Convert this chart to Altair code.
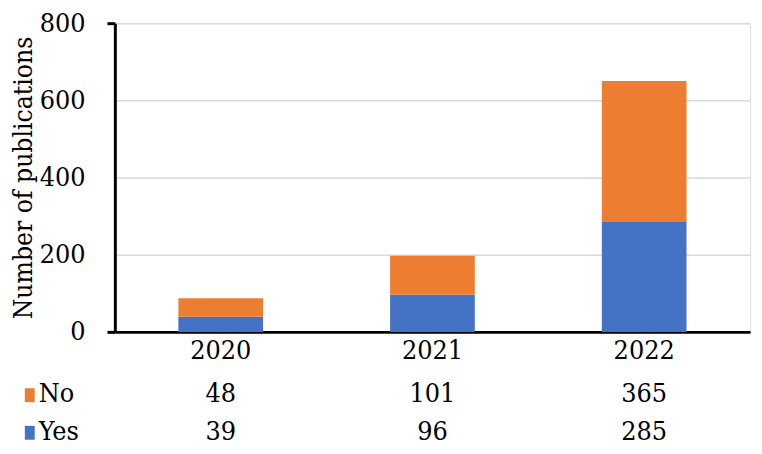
import altair as alt
import pandas as pd

years = ["2020", "2021", "2022"]
no_values = [48, 101, 365]
yes_values = [39, 96, 285]
series = ["Yes", "No"]
colors = ["#4472C4", "#ED7D31"]
y_ticks = [0, 200, 400, 600, 800]

rows = []
for i, yr in enumerate(years):
    rows.append({"year": yr, "group": "Yes", "value": yes_values[i], "order": 0})
    rows.append({"year": yr, "group": "No", "value": no_values[i], "order": 1})
df = pd.DataFrame(rows)

FONT = "DejaVu Serif Condensed"
FS = 27

x_enc = alt.X("year:N", sort=years,
              scale=alt.Scale(paddingInner=0.6, paddingOuter=0.3),
              axis=alt.Axis(title=None, labelAngle=0, labelFont=FONT, labelFontSize=FS,
                            labelColor="black", domainColor="black", domainWidth=3,
                            ticks=False, labelPadding=6, grid=False))

bars = alt.Chart(df).mark_bar(stroke=None).encode(
    x=x_enc,
    y=alt.Y("sum(value):Q", stack="zero",
            scale=alt.Scale(domain=[0, 800], nice=False),
            axis=alt.Axis(title="Number of publications", values=y_ticks,
                          titleFont=FONT, titleFontSize=26.5, titleFontWeight="normal",
                          titleColor="black", titlePadding=2,
                          labelFont=FONT, labelFontSize=FS, labelColor="black",
                          labelPadding=22, tickSize=8, tickWidth=3,
                          tickColor={"condition": {"test": "datum.value == 0 || datum.value == 800", "value": "black"}, "value": "transparent"},
                          domainColor="black", domainWidth=3,
                          grid=True, gridColor="#d9d9d9", gridWidth=1.5)),
    color=alt.Color("group:N", scale=alt.Scale(domain=series, range=colors), legend=None),
    order=alt.Order("order:Q"),
)

tdf_no = pd.DataFrame({"year": years, "value": no_values})
tdf_yes = pd.DataFrame({"year": years, "value": yes_values})

text_no = alt.Chart(tdf_no).mark_text(font=FONT, fontSize=FS, color="black", baseline="middle").encode(
    x=alt.X("year:N", sort=years), y=alt.value(375), text="value:Q")
text_yes = alt.Chart(tdf_yes).mark_text(font=FONT, fontSize=FS, color="black", baseline="middle").encode(
    x=alt.X("year:N", sort=years), y=alt.value(413), text="value:Q")

leg_no = alt.Chart(pd.DataFrame({"group": ["No"]})).mark_rect(color=colors[1]).encode(
    x=alt.value(-91), x2=alt.value(-81), y=alt.value(369), y2=alt.value(383))
leg_yes = alt.Chart(pd.DataFrame({"group": ["Yes"]})).mark_rect(color=colors[0]).encode(
    x=alt.value(-91), x2=alt.value(-81), y=alt.value(407), y2=alt.value(421))
leg_txt_no = alt.Chart(pd.DataFrame({"group": ["No"]})).mark_text(
    font=FONT, fontSize=FS, color="black", align="left", baseline="middle").encode(
    x=alt.value(-77), y=alt.value(375), text="group:N")
leg_txt_yes = alt.Chart(pd.DataFrame({"group": ["Yes"]})).mark_text(
    font=FONT, fontSize=FS, color="black", align="left", baseline="middle").encode(
    x=alt.value(-77), y=alt.value(413), text="group:N")

chart = alt.layer(bars, text_no, text_yes, leg_no, leg_yes, leg_txt_no, leg_txt_yes).properties(
    width=642, height=312,
    autosize=alt.AutoSizeParams(type="none"),
    padding={"left": 108, "top": 13, "right": 4, "bottom": 113},
).configure_view(stroke=None).configure(background="white")

chart.save("out.html", embed_options={"renderer": "svg", "actions": False})
